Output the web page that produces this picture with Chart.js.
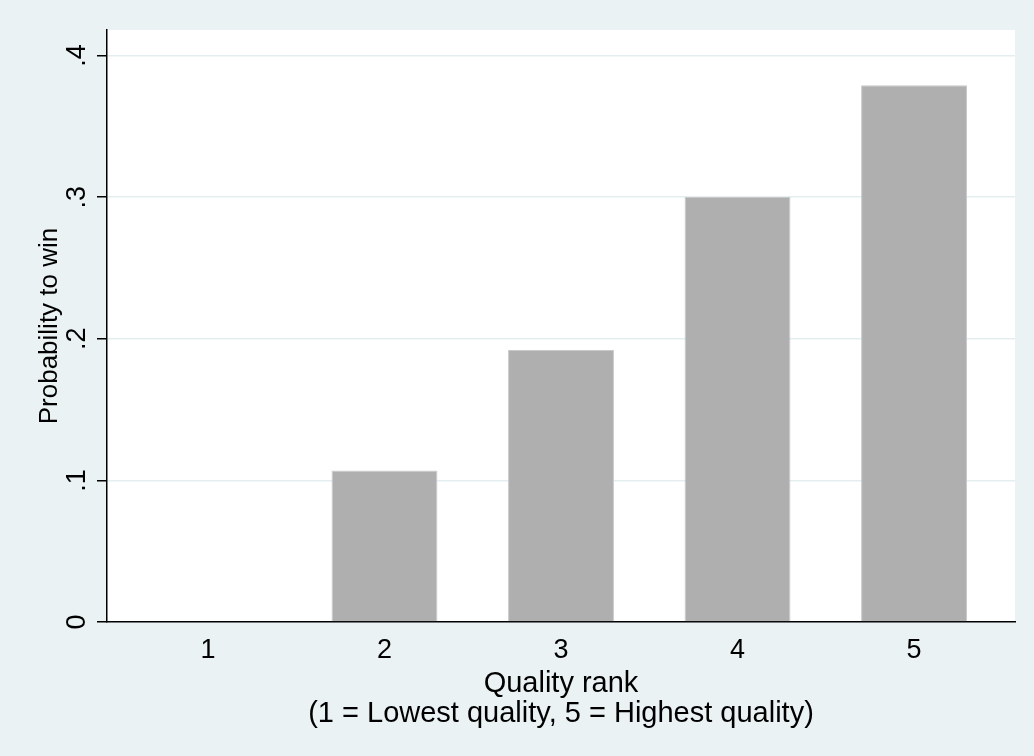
<!DOCTYPE html>
<html>
<head>
<meta charset="utf-8">
<script src="https://cdn.jsdelivr.net/npm/chart.js@4.4.1/dist/chart.umd.min.js"></script>
<style>
  html, body { margin: 0; padding: 0; background: #eaf2f3; }
  #wrap { width: 1034px; height: 756px; }
</style>
</head>
<body>
<div id="wrap"><canvas id="chart" width="1034" height="756"></canvas></div>
<script>
// quality ranks and the share that won
const ranks = [1, 2, 3, 4, 5];
const winProb = [0, 0.107, 0.192, 0.300, 0.379];
const yTicks = [0, 0.1, 0.2, 0.3, 0.4];

const bg = '#eaf2f3';
const font = 'Arial, "Liberation Sans", sans-serif';

// paint outer region and white plot region
const backdrop = {
    id: 'backdrop',
    beforeDraw(chart) {
        const ctx = chart.ctx;
        const a = chart.chartArea;
        ctx.save();
        ctx.fillStyle = bg;
        ctx.fillRect(0, 0, chart.width, chart.height);
        ctx.fillStyle = '#ffffff';
        ctx.fillRect(a.left, a.top, a.right - a.left, a.bottom - a.top);
        ctx.restore();
    }
};

function fmtTick(v) {
    if (v === 0) return '0';
    return String(+v.toFixed(2)).replace(/^0/, '');
}

new Chart(document.getElementById('chart'), {
    type: 'bar',
    data: {
        datasets: [{
            data: ranks.map((r, i) => ({ x: r, y: winProb[i] })),
            backgroundColor: '#afafaf',
            borderColor: '#c9c9c9',
            borderWidth: 1,
            barPercentage: 0.6,
            categoryPercentage: 1
        }]
    },
    options: {
        responsive: false,
        animation: false,
        events: [],
        layout: { padding: { top: 30, right: 19, bottom: 0, left: 0 } },
        plugins: { legend: { display: false }, tooltip: { enabled: false } },
        scales: {
            x: {
                type: 'linear',
                offset: false,
                min: 0.428,
                max: 5.572,
                afterBuildTicks: s => { s.ticks = ranks.map(v => ({ value: v })); },
                afterFit: s => { s.height = 134; },
                grid: { display: false },
                border: { display: true, color: '#000', width: 1.5 },
                ticks: { color: '#000', font: { family: font, size: 27 }, padding: 4, maxRotation: 0 },
                title: {
                    display: true,
                    text: ['Quality rank', '(1 = Lowest quality, 5 = Highest quality)'],
                    color: '#000',
                    font: { family: font, size: 29, lineHeight: 1.03 },
                    padding: { top: 0, bottom: 27 }
                }
            },
            y: {
                min: 0,
                max: 0.418,
                afterBuildTicks: s => { s.ticks = yTicks.map(v => ({ value: v })); },
                afterFit: s => { s.width = 107; },
                grid: {
                    color: c => (c.tick && c.tick.value === 0) ? 'rgba(0,0,0,0)' : '#e4eef0',
                    lineWidth: 1.5,
                    tickColor: '#000',
                    tickLength: 10,
                    drawTicks: true
                },
                border: { display: true, color: '#000', width: 1.5 },
                ticks: {
                    color: '#000',
                    font: { family: font, size: 27 },
                    minRotation: 90,
                    maxRotation: 90,
                    crossAlign: 'center',
                    padding: 8,
                    callback: v => fmtTick(v)
                },
                title: {
                    display: true,
                    text: 'Probability to win',
                    color: '#000',
                    font: { family: font, size: 26 },
                    padding: { top: 34, bottom: 0 }
                }
            }
        }
    },
    plugins: [backdrop]
});
</script>
</body>
</html>
